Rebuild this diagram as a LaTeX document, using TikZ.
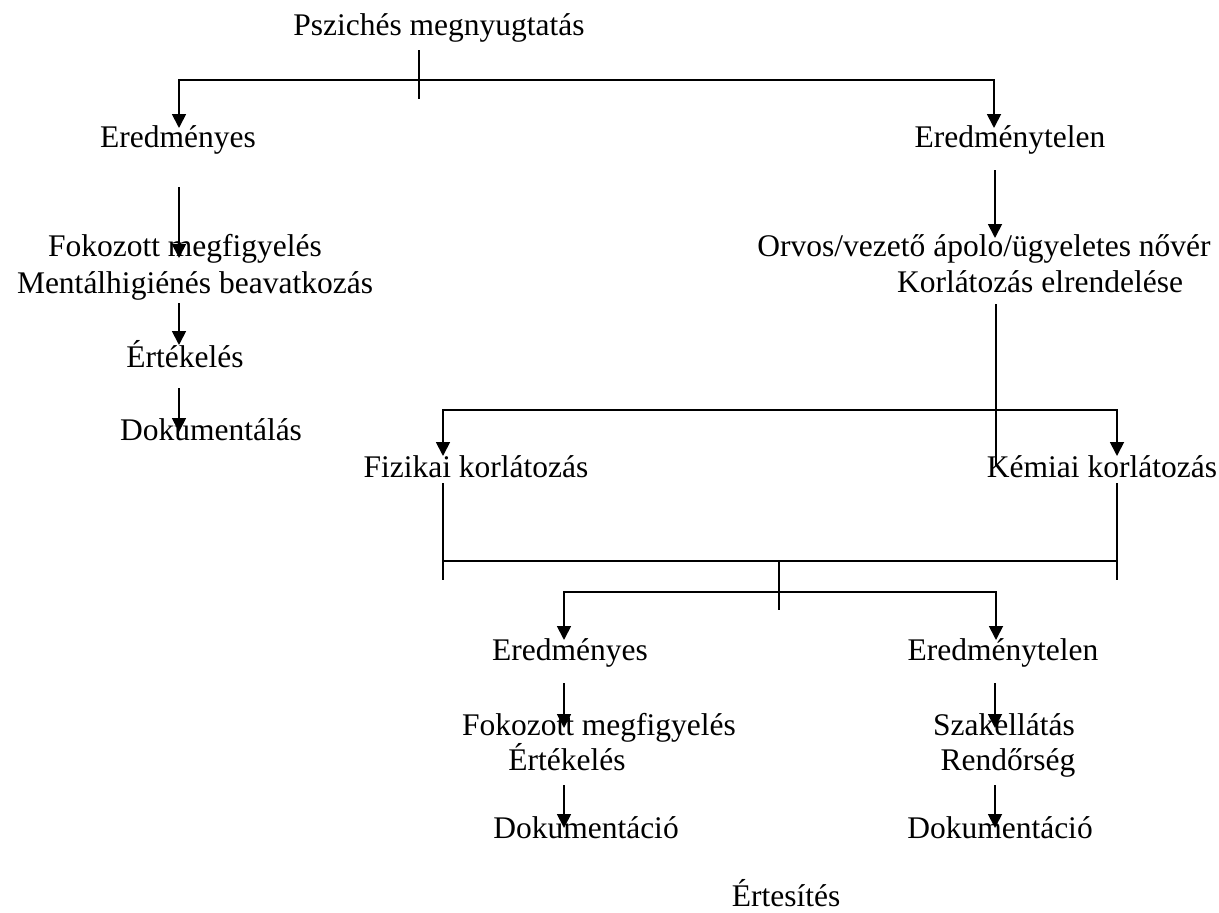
\documentclass[tikz,border=0pt]{standalone}
\usepackage{fontspec}
\setmainfont{Liberation Serif}
\usetikzlibrary{arrows.meta}
\begin{document}
\begin{tikzpicture}[x=1pt,y=-1pt,
  lbl/.style={inner sep=0pt, anchor=base, font=\fontsize{31.5}{36}\selectfont},
  ln/.style={line width=1.8pt},
  thk/.style={line width=2.8pt},
  tip/.tip={Triangle[width=14pt,length=14pt]},
  arr/.style={ln, -tip},
  arr2/.style={ln, tip-tip}]
\useasboundingbox (0,0) rectangle (1219,913);
% texts
\node[lbl] (ps)  at (439,35)  {Pszichés megnyugtatás};
\node[lbl] (er1) at (178,147) {Eredményes};
\node[lbl] (et1) at (1010,147) {Eredménytelen};
\node[lbl] (fm1) at (185,256) {Fokozott megfigyelés};
\node[lbl] (mh)  at (195,293) {Mentálhigiénés beavatkozás};
\node[lbl] (ek1) at (185,367) {Értékelés};
\node[lbl] (dk1) at (211,440) {Dokumentálás};
\node[lbl] (ov)  at (984,256) {Orvos/vezető ápolo/ügyeletes nővér};
\node[lbl] (ke)  at (1040,292) {Korlátozás elrendelése};
\node[lbl] (fk)  at (476,477) {Fizikai korlátozás};
\node[lbl] (km)  at (1102,477) {Kémiai korlátozás};
\node[lbl] (er2) at (570,660) {Eredményes};
\node[lbl] (et2) at (1003,660) {Eredménytelen};
\node[lbl] (fm2) at (599,735) {Fokozott megfigyelés};
\node[lbl] (ek2) at (567,770) {Értékelés};
\node[lbl] (dk2) at (586,838) {Dokumentáció};
\node[lbl] (sz)  at (1004,735) {Szakellátás};
\node[lbl] (rd)  at (1008,770) {Rendőrség};
\node[lbl] (dk3) at (1000,838) {Dokumentáció};
\node[lbl] (ert) at (786,906) {Értesítés};
% coordinates
\coordinate (t1a) at (419,50);  \coordinate (t1b) at (419,99);
\coordinate (h1l) at (179,80);  \coordinate (h1r) at (994,80);
\coordinate (a1)  at (179,128); \coordinate (a2)  at (994,128);
\coordinate (k1a) at (586,80);  \coordinate (k1b) at (660,80);
\coordinate (k2a) at (947,80);
\coordinate (l1a) at (179,187); \coordinate (l1b) at (179,258);
\coordinate (l2a) at (179,303); \coordinate (l2b) at (179,345);
\coordinate (l3a) at (179,388); \coordinate (l3b) at (179,432);
\coordinate (r1a) at (995,170); \coordinate (r1b) at (995,238);
\coordinate (r2a) at (996,304); \coordinate (r2b) at (996,466);
\coordinate (f1)  at (443,456); \coordinate (f2) at (443,410);
\coordinate (f3)  at (1117,410); \coordinate (f4) at (1117,456);
\coordinate (g1)  at (443,483); \coordinate (g2) at (443,580);
\coordinate (g3)  at (1117,483); \coordinate (g4) at (1117,580);
\coordinate (gl)  at (443,561); \coordinate (gr) at (1117,561);
\coordinate (ta)  at (779,561); \coordinate (tb) at (779,610);
\coordinate (b1)  at (564,640); \coordinate (b2) at (564,592);
\coordinate (b3)  at (996,592); \coordinate (b4) at (996,640);
\coordinate (m1a) at (564,683); \coordinate (m1b) at (564,728);
\coordinate (m2a) at (564,785); \coordinate (m2b) at (564,828);
\coordinate (n1a) at (995,683); \coordinate (n1b) at (995,728);
\coordinate (n2a) at (995,785); \coordinate (n2b) at (995,828);
% connectors
\draw[ln] (t1a) -- (t1b);
\draw[arr2] (a1) -- (h1l) -- (h1r) -- (a2);
\draw[thk] (k1a) -- (k1b);
\draw[thk] (k2a) -- (h1r);
\draw[arr] (l1a) -- (l1b);
\draw[arr] (l2a) -- (l2b);
\draw[arr] (l3a) -- (l3b);
\draw[arr] (r1a) -- (r1b);
\draw[ln] (r2a) -- (r2b);
\draw[arr2] (f1) -- (f2) -- (f3) -- (f4);
\draw[ln] (g1) -- (g2);
\draw[ln] (g3) -- (g4);
\draw[ln] (gl) -- (gr);
\draw[ln] (ta) -- (tb);
\draw[arr2] (b1) -- (b2) -- (b3) -- (b4);
\draw[arr] (m1a) -- (m1b);
\draw[arr] (m2a) -- (m2b);
\draw[arr] (n1a) -- (n1b);
\draw[arr] (n2a) -- (n2b);
\end{tikzpicture}
\end{document}
